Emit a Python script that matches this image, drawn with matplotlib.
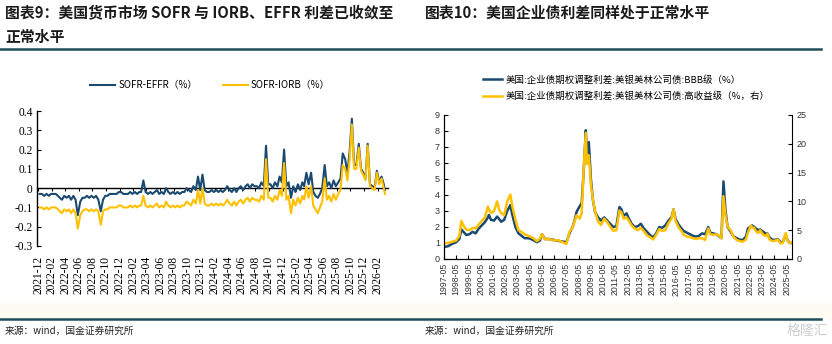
import matplotlib.pyplot as plt
from matplotlib.lines import Line2D
from matplotlib.patches import Rectangle
import pandas as pd

plt.rcParams['font.family'] = ['Noto Sans CJK SC', 'DejaVu Sans']
plt.rcParams['axes.unicode_minus'] = False

BLUE = '#1b4a70'
GOLD = '#ffc000'
LINE = '#1f4d5c'

# --- 图表9: three readings per month (8th, 18th, 28th), 2021-12 .. 2026-02, plus 2026-03-05
months9 = pd.date_range('2021-12-01', '2026-02-01', freq='MS')
sofr_effr = [
    -0.03, -0.03, -0.04,  -0.03, -0.04, -0.03,  -0.03, -0.03, -0.04,   # 2021-12 .. 2022-02
    -0.05, -0.06, -0.04,  -0.05, -0.04, -0.06,  -0.04, -0.06, -0.14,   # 2022-03 .. 2022-05
    -0.07, -0.05, -0.05,  -0.04, -0.05, -0.04,  -0.05, -0.04, -0.06,   # 2022-06 .. 2022-08
    -0.12, -0.06, -0.04,  -0.04, -0.03, -0.03,  -0.03, -0.03, -0.02,   # 2022-09 .. 2022-11
    -0.02, -0.03, -0.03,  -0.03, -0.02, -0.03,  -0.02, -0.03, -0.02,   # 2022-12 .. 2023-02
    -0.02, 0.04, -0.02,   -0.03, -0.02, -0.03,  -0.02, -0.01, -0.03,   # 2023-03 .. 2023-05
    -0.02, -0.03, 0.00,   -0.02, -0.03, -0.02,  -0.03, -0.02, -0.03,   # 2023-06 .. 2023-08
    -0.02, -0.02, 0.00,   -0.01, -0.02, 0.01,   -0.01, 0.06, -0.01,    # 2023-09 .. 2023-11
    0.07, -0.01, -0.02,   -0.02, -0.01, -0.02,  -0.01, -0.02, -0.01,   # 2023-12 .. 2024-02
    -0.02, -0.01, 0.01,   -0.01, -0.02, 0.00,   -0.02, 0.00, 0.01,     # 2024-03 .. 2024-05
    -0.01, 0.01, 0.02,    0.00, 0.02, 0.01,     0.01, 0.00, 0.03,      # 2024-06 .. 2024-08
    0.01, 0.22, 0.02,     0.02, 0.00, 0.03,     0.01, 0.06, 0.03,      # 2024-09 .. 2024-11
    0.20, 0.01, 0.03,     -0.05, 0.01, -0.02,   0.02, -0.01, 0.03,     # 2024-12 .. 2025-02
    0.01, 0.08, 0.02,     0.08, -0.02, -0.04,   -0.05, -0.03, 0.00,    # 2025-03 .. 2025-05
    0.12, 0.01, 0.03,     0.00, 0.04, 0.01,     0.03, 0.05, 0.18,      # 2025-06 .. 2025-08
    0.15, 0.08, 0.19,     0.36, 0.12, 0.12,     0.23, 0.10, 0.08,      # 2025-09 .. 2025-11
    0.05, 0.23, 0.02,     0.01, 0.00, 0.09,     0.03, 0.06, 0.02,      # 2025-12 .. 2026-02
    -0.01,                                                            # 2026-03
]
sofr_iorb = [
    -0.10, -0.10, -0.11,  -0.10, -0.11, -0.10,  -0.10, -0.10, -0.11,
    -0.12, -0.13, -0.11,  -0.12, -0.11, -0.13,  -0.11, -0.13, -0.21,
    -0.14, -0.12, -0.11,  -0.11, -0.12, -0.11,  -0.12, -0.11, -0.12,
    -0.19, -0.12, -0.11,  -0.11, -0.10, -0.10,  -0.10, -0.10, -0.09,
    -0.09, -0.10, -0.10,  -0.10, -0.09, -0.10,  -0.09, -0.10, -0.09,
    -0.09, -0.04, -0.09,  -0.10, -0.09, -0.10,  -0.09, -0.08, -0.10,
    -0.09, -0.10, -0.07,  -0.09, -0.10, -0.09,  -0.10, -0.09, -0.10,
    -0.09, -0.09, -0.07,  -0.08, -0.09, -0.06,  -0.08, -0.01, -0.08,
    0.00, -0.08, -0.09,   -0.09, -0.08, -0.09,  -0.08, -0.09, -0.08,
    -0.09, -0.08, -0.06,  -0.08, -0.09, -0.07,  -0.09, -0.07, -0.06,
    -0.08, -0.06, -0.05,  -0.07, -0.05, -0.06,  -0.06, -0.07, -0.04,
    -0.06, 0.15, -0.05,   -0.05, -0.07, -0.04,  -0.06, -0.01, -0.04,
    0.13, -0.06, -0.04,   -0.13, -0.06, -0.09,  -0.05, -0.08, -0.04,
    -0.06, 0.01, -0.05,   0.01, -0.09, -0.11,   -0.13, -0.10, -0.07,
    0.05, -0.06, -0.04,   -0.07, -0.03, -0.06,  -0.03, -0.01, 0.12,
    0.10, 0.04, 0.15,     0.33, 0.10, 0.10,     0.21, 0.09, 0.07,
    0.04, 0.22, 0.01,     0.00, -0.01, 0.08,    0.02, 0.05, 0.00,
    -0.03,
]
dates9 = [m + pd.Timedelta(days=d) for m in months9 for d in (7, 17, 27)]
dates9.append(pd.Timestamp('2026-03-05'))
ticks9 = pd.date_range('2021-12-01', '2026-02-01', freq='2MS')

# --- 图表10: ICE BofA OAS, BBB (left axis) and high yield (right axis)
dates10 = [
    '1997-05', '1997-09', '1998-01', '1998-05', '1998-08', '1998-10', '1998-12',
    '1999-03', '1999-06', '1999-09', '1999-12', '2000-03', '2000-06', '2000-09',
    '2000-12', '2001-01', '2001-03', '2001-06', '2001-09', '2001-11', '2002-01',
    '2002-04', '2002-07', '2002-10', '2002-12', '2003-03', '2003-06', '2003-09',
    '2003-12', '2004-04', '2004-08', '2004-12', '2005-03', '2005-05', '2005-08',
    '2005-12', '2006-04', '2006-08', '2006-12', '2007-05', '2007-08', '2007-11',
    '2008-01', '2008-03', '2008-06', '2008-08', '2008-10', '2008-12', '2009-01',
    '2009-03', '2009-05', '2009-07', '2009-09', '2009-12', '2010-03', '2010-06',
    '2010-09', '2010-12', '2011-03', '2011-06', '2011-09', '2011-11', '2012-01',
    '2012-04', '2012-06', '2012-09', '2012-12', '2013-03', '2013-06', '2013-09',
    '2013-12', '2014-03', '2014-06', '2014-09', '2014-12', '2015-03', '2015-06',
    '2015-09', '2015-12', '2016-02', '2016-04', '2016-07', '2016-10', '2016-12',
    '2017-03', '2017-06', '2017-09', '2017-12', '2018-03', '2018-06', '2018-09',
    '2018-12', '2019-02', '2019-05', '2019-08', '2019-11', '2020-01', '2020-03',
    '2020-05', '2020-07', '2020-10', '2021-01', '2021-04', '2021-07', '2021-10',
    '2022-01', '2022-03', '2022-06', '2022-07', '2022-09', '2022-11', '2023-01',
    '2023-03', '2023-06', '2023-09', '2023-10', '2023-12', '2024-03', '2024-06',
    '2024-08', '2024-11', '2025-01', '2025-04', '2025-06', '2025-08', '2025-10',
]
bbb_oas = [
    0.75, 0.80, 0.95, 1.05, 1.25, 1.85, 1.70,
    1.50, 1.55, 1.70, 1.60, 1.90, 2.10, 2.30,
    2.60, 2.75, 2.45, 2.40, 2.65, 2.50, 2.33,
    2.45, 3.00, 3.37, 2.75, 2.00, 1.60, 1.45,
    1.30, 1.30, 1.20, 1.05, 1.15, 1.55, 1.25,
    1.25, 1.20, 1.15, 1.10, 1.05, 1.60, 2.00,
    2.40, 2.95, 3.30, 3.50, 5.60, 8.05, 6.60,
    7.30, 5.00, 3.70, 2.95, 2.60, 2.40, 2.60,
    2.40, 2.20, 2.00, 2.05, 3.25, 3.10, 2.70,
    2.85, 2.55, 2.20, 2.00, 2.05, 2.20, 1.90,
    1.70, 1.50, 1.35, 1.60, 2.00, 1.95, 2.10,
    2.40, 2.60, 3.10, 2.50, 2.15, 1.90, 1.75,
    1.65, 1.55, 1.45, 1.40, 1.45, 1.60, 1.55,
    2.00, 1.65, 1.60, 1.55, 1.40, 1.30, 4.85,
    3.00, 2.00, 1.70, 1.40, 1.30, 1.20, 1.20,
    1.40, 1.90, 2.05, 2.10, 2.00, 1.90, 1.80,
    1.85, 1.70, 1.55, 1.60, 1.35, 1.20, 1.20,
    1.25, 1.05, 1.05, 1.50, 1.15, 1.00, 1.00,
]
hy_oas = [
    2.7, 2.8, 3.0, 3.2, 4.0, 6.6, 5.8,
    5.1, 5.0, 5.4, 5.3, 6.0, 6.6, 7.2,
    9.1, 8.6, 8.0, 8.3, 10.0, 8.6, 8.0,
    7.6, 10.0, 11.2, 9.1, 6.9, 5.0, 4.7,
    4.3, 4.0, 3.7, 3.1, 3.5, 4.3, 3.4,
    3.5, 3.2, 3.3, 3.0, 2.6, 4.7, 5.5,
    6.5, 7.6, 7.0, 8.0, 16.0, 21.9, 16.5,
    18.0, 13.0, 10.3, 8.3, 6.5, 5.9, 7.0,
    6.4, 5.6, 4.9, 5.0, 8.4, 8.1, 7.0,
    7.2, 6.7, 5.8, 5.3, 5.0, 5.4, 4.8,
    4.1, 3.8, 3.4, 4.2, 5.2, 4.9, 5.0,
    6.2, 7.0, 8.6, 6.6, 5.5, 4.8, 4.2,
    3.9, 3.8, 3.6, 3.5, 3.6, 3.6, 3.3,
    5.3, 4.3, 4.2, 4.3, 4.0, 3.6, 10.9,
    7.5, 5.6, 5.0, 3.8, 3.3, 3.1, 3.0,
    3.4, 4.6, 5.8, 5.5, 5.4, 4.8, 4.5,
    5.0, 4.2, 4.0, 4.4, 3.4, 3.1, 3.2,
    3.4, 2.7, 2.8, 4.5, 3.1, 2.8, 2.9,
]
dates10 = pd.to_datetime(dates10)
ticks10 = pd.date_range('1997-05-01', '2025-05-01', freq='12MS')

W, H = 832, 344
fig = plt.figure(figsize=(W / 100, H / 100), dpi=100)


def fx(px):
    return px / W


def fy(py):
    return 1 - py / H


# faint band under the charts and the separator rules
fig.add_artist(Rectangle((0, fy(318)), 1, (318 - 303) / H, transform=fig.transFigure,
                         color='#fefcf2', zorder=0))
for y in (49, 319):
    fig.add_artist(Line2D([0, fx(821)], [fy(y), fy(y)], transform=fig.transFigure,
                          color=LINE, lw=1.8))

# titles
title_kw = dict(fontsize=10.7, fontweight='bold', style='italic', va='center',
                color='#1a1a1a')
fig.text(fx(5), fy(13), '图表9：美国货币市场 SOFR 与 IORB、EFFR 利差已收敛至', **title_kw)
fig.text(fx(5), fy(37), '正常水平', **title_kw)
fig.text(fx(425), fy(13), '图表10：美国企业债利差同样处于正常水平', **title_kw)

# sources
for x in (5, 425):
    fig.text(fx(x), fy(331), '来源：wind，国金证券研究所', fontsize=7, va='center',
             color='#222222')
fig.text(fx(828), fy(331), '格隆汇', fontsize=10, ha='right', va='center', color='#cfcfcf')

# ---- left chart
ax1 = fig.add_axes([fx(37), fy(246), fx(388) - fx(37), (246 - 111) / H])
ax1.plot(dates9, sofr_effr, color=BLUE, lw=1.5, label='SOFR-EFFR（%）')
ax1.plot(dates9, sofr_iorb, color=GOLD, lw=1.5, label='SOFR-IORB（%）')
ax1.set_ylim(-0.3, 0.4)
ax1.set_yticks([-0.3, -0.2, -0.1, 0, 0.1, 0.2, 0.3, 0.4])
ax1.set_yticklabels(['-0.3', '-0.2', '-0.1', '0', '0.1', '0.2', '0.3', '0.4'])
ax1.set_xlim(pd.Timestamp('2021-11-26'), pd.Timestamp('2026-03-19'))
ax1.set_xticks(ticks9)
ax1.set_xticklabels([t.strftime('%Y-%m') for t in ticks9], rotation=90)
for s in ('top', 'right', 'bottom'):
    ax1.spines[s].set_visible(False)
ax1.spines['left'].set_linewidth(1.0)
ax1.tick_params(axis='x', length=0, pad=7)
ax1.tick_params(axis='y', direction='in', length=3, pad=3)
for lab in ax1.get_xticklabels() + ax1.get_yticklabels():
    lab.set_fontfamily('Liberation Serif')
    lab.set_fontsize(8.3)
zero = ax1.secondary_xaxis(3 / 7)
zero.set_xticks(ticks9)
zero.tick_params(axis='x', direction='out', length=2.5, labelbottom=False)
zero.spines['bottom'].set_linewidth(1.0)
fig.legend(handles=ax1.get_lines(), loc='center', bbox_to_anchor=(fx(210), fy(85)),
           ncol=2, frameon=False, fontsize=7, handlelength=2.6, handletextpad=0.3,
           columnspacing=2.6)

# ---- right chart
ax2 = fig.add_axes([fx(444), fy(259), fx(792) - fx(444), (259 - 115) / H])
ax2.plot(dates10, bbb_oas, color=BLUE, lw=1.8,
         label='美国:企业债期权调整利差:美银美林公司债:BBB级（%）')
ax2.set_ylim(0, 9)
ax2.set_yticks(range(0, 10))
ax2.set_xlim(pd.Timestamp('1997-05-01'), pd.Timestamp('2025-10-06'))
ax2.set_xticks(ticks10)
ax2.set_xticklabels([t.strftime('%Y-%m') for t in ticks10], rotation=90)
ax3 = ax2.twinx()
ax3.plot(dates10, hy_oas, color=GOLD, lw=1.8,
         label='美国:企业债期权调整利差:美银美林公司债:高收益级（%，右）')
ax3.set_ylim(0, 25)
ax3.set_yticks(range(0, 26, 5))
for a in (ax2, ax3):
    a.spines['top'].set_visible(False)
    a.tick_params(direction='in', length=3, pad=3, labelsize=6.5, colors='black',
                  labelcolor='#333333')
    for lab in a.get_xticklabels() + a.get_yticklabels():
        lab.set_fontfamily('Liberation Sans')
ax2.tick_params(axis='x', labelsize=6.3)
ax2.spines['right'].set_visible(False)
fig.legend(handles=ax2.get_lines() + ax3.get_lines(), loc='upper left',
           bbox_to_anchor=(fx(478), fy(70)), frameon=False, fontsize=6.8,
           handlelength=2.0, handletextpad=0.4, labelspacing=0.75, borderpad=0)

fig.savefig('out.png', dpi=100)
